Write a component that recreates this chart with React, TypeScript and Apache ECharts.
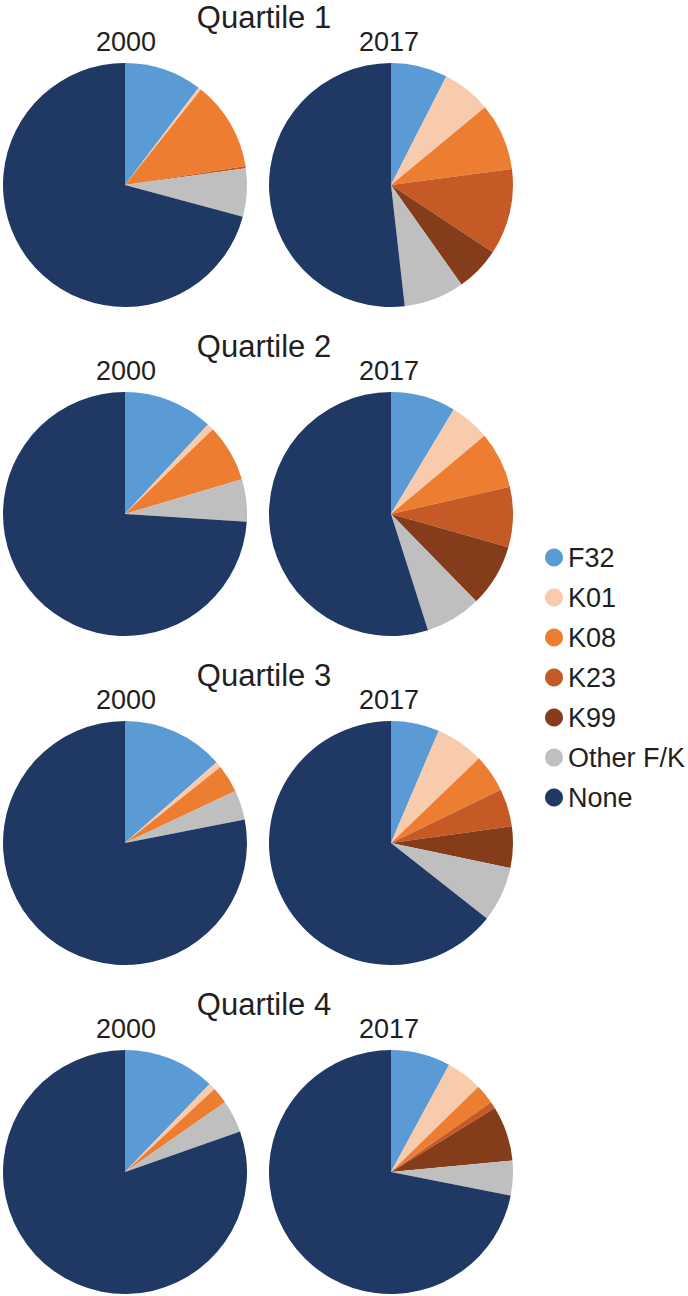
import React, { useEffect, useRef } from "react";
import * as echarts from "echarts";

const categories = ["F32", "K01", "K08", "K23", "K99", "Other F/K", "None"];
const colors = ["#5B9BD5", "#F8CBAD", "#ED7D31", "#C55A27", "#843C1A", "#BFBFBF", "#203864"];

const quartileLabels = ["Quartile 1", "Quartile 2", "Quartile 3", "Quartile 4"];
const yearLabels = ["2000", "2017"];

const q1_2000 = [10.3, 0.4, 11.8, 0.3, 0, 6.4, 70.8];
const q1_2017 = [7.5, 6.5, 8.9, 11.4, 5.9, 8.0, 51.8];
const q2_2000 = [11.9, 0.9, 7.6, 0, 0, 5.6, 74.0];
const q2_2017 = [8.6, 5.3, 7.5, 8.0, 8.3, 7.4, 54.9];
const q3_2000 = [13.5, 0.8, 3.7, 0, 0, 3.9, 78.1];
const q3_2017 = [6.4, 6.4, 5.0, 5.0, 5.5, 7.3, 64.4];
const q4_2000 = [12.2, 0.9, 2.2, 0, 0, 4.3, 80.4];
const q4_2017 = [7.9, 4.8, 2.6, 0.9, 7.3, 4.6, 71.9];

const pieValues = [
  [q1_2000, q1_2017],
  [q2_2000, q2_2017],
  [q3_2000, q3_2017],
  [q4_2000, q4_2017],
];

const FONT = "'Liberation Sans', Arial, Helvetica, sans-serif";

export default function App() {
  const ref = useRef<HTMLDivElement>(null);

  useEffect(() => {
    if (!ref.current) return;
    const chart = echarts.init(ref.current, null, { renderer: "svg" });

    const pieX = [125, 391];
    const pieY = [185, 514, 843, 1172];
    const radius = 122;

    const series: any[] = [];
    const graphics: any[] = [];

    pieValues.forEach((pair, qi) => {
      const cy = pieY[qi];
      graphics.push({
        type: "text",
        x: 264,
        y: cy - 168,
        style: {
          text: quartileLabels[qi],
          fill: "#231F20",
          font: `31px ${FONT}`,
          textAlign: "center",
          textVerticalAlign: "middle",
        },
      });
      pair.forEach((vals, yi) => {
        graphics.push({
          type: "text",
          x: pieX[yi] + (yi === 0 ? 1 : -2),
          y: cy - 143,
          style: {
            text: yearLabels[yi],
            fill: "#231F20",
            font: `27px ${FONT}`,
            textAlign: "center",
            textVerticalAlign: "middle",
          },
        });
        series.push({
          type: "pie",
          name: `${quartileLabels[qi]} ${yearLabels[yi]}`,
          center: [pieX[yi], cy],
          radius: radius,
          startAngle: 90,
          clockwise: true,
          label: { show: false },
          labelLine: { show: false },
          silent: true,
          emphasis: { disabled: true },
          itemStyle: { borderWidth: 0 },
          data: categories.map((c, i) => ({
            name: c,
            value: vals[i],
            itemStyle: { color: colors[i] },
          })),
        });
      });
    });

    chart.setOption({
      animation: false,
      color: colors,
      legend: {
        orient: "vertical",
        left: 540,
        top: 539,
        icon: "circle",
        itemWidth: 18,
        itemHeight: 18,
        itemGap: 13,
        itemTextGap: 11,
        selectedMode: false,
        data: categories,
        textStyle: {
          fontFamily: FONT,
          fontSize: 27,
          lineHeight: 27,
          color: "#231F20",
        },
      },
      series,
      graphic: graphics,
    });

    return () => chart.dispose();
  }, []);

  return (
    <div
      ref={ref}
      style={{ position: "absolute", left: 0, top: 0, width: 688, height: 1296, background: "#fff" }}
    />
  );
}
